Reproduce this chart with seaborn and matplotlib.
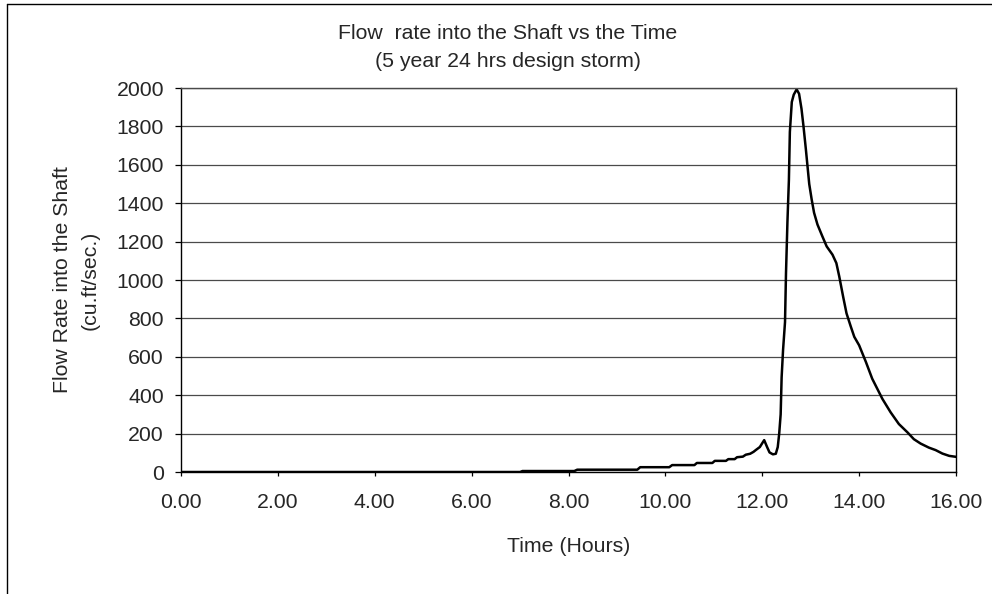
import matplotlib
matplotlib.use("Agg")
import matplotlib.pyplot as plt
from matplotlib.lines import Line2D
import seaborn as sns
import pandas as pd

# Hydrograph: flow into the shaft for the 5-year 24-hour design storm
hours = [0.00, 7.00, 7.05, 8.12, 8.18, 9.42, 9.48, 10.08, 10.14, 10.60, 10.65,
         10.97, 11.02, 11.25, 11.30, 11.43, 11.48, 11.60, 11.66, 11.75, 11.82,
         11.87, 11.95, 12.04, 12.10, 12.15, 12.22, 12.28, 12.32, 12.35, 12.38,
         12.40, 12.43, 12.47, 12.49, 12.52, 12.55, 12.57, 12.61, 12.65, 12.71,
         12.76, 12.81, 12.85, 12.90, 12.97, 13.02, 13.07, 13.14, 13.24, 13.33,
         13.45, 13.53, 13.59, 13.67, 13.74, 13.83, 13.90, 14.00, 14.14, 14.27,
         14.48, 14.65, 14.82, 15.00, 15.13, 15.27, 15.44, 15.58, 15.72, 15.86,
         16.00]
flow_cfs = [0, 0, 5, 5, 12, 12, 25, 25, 36, 36, 47,
            47, 58, 58, 67, 67, 77, 80, 90, 95, 105,
            115, 130, 166, 130, 102, 92, 95, 130, 200, 300,
            493, 637, 781, 1033, 1303, 1520, 1771, 1927, 1965, 1993,
            1970, 1892, 1804, 1682, 1500, 1420, 1350, 1289, 1228, 1175,
            1132, 1088, 1018, 913, 826, 756, 704, 660, 573, 486,
            381, 311, 250, 206, 171, 148, 127, 114, 96, 84,
            79]

x_ticks = [0, 2, 4, 6, 8, 10, 12, 14, 16]
y_ticks = [0, 200, 400, 600, 800, 1000, 1200, 1400, 1600, 1800, 2000]

title_text = "Flow  rate into the Shaft vs the Time\n(5 year 24 hrs design storm)"
x_label = "Time (Hours)"
y_label = "Flow Rate into the Shaft\n(cu.ft/sec.)"

df = pd.DataFrame({"hours": hours, "flow": flow_cfs})

sns.set_style("white")
plt.rcParams["font.family"] = ["Liberation Sans", "DejaVu Sans"]
FS = 15.3

W, H = 992, 594
fig = plt.figure(figsize=(W / 100, H / 100), dpi=100)
fig.patch.set_facecolor("white")

# plot area in pixel coordinates
L, R, T, B = 181, 956, 88, 472
ax = fig.add_axes([L / W, 1 - B / H, (R - L) / W, (B - T) / H])

sns.lineplot(data=df, x="hours", y="flow", ax=ax, color="black",
             linewidth=1.8, estimator=None, sort=False)

ax.set_xlim(0, 16)
ax.set_ylim(0, 2000)
ax.set_xticks(x_ticks)
ax.set_xticklabels([f"{v:.2f}" for v in x_ticks], fontsize=FS)
ax.set_yticks(y_ticks)
ax.set_yticklabels([str(v) for v in y_ticks], fontsize=FS)
ax.tick_params(axis="x", direction="out", length=3, width=0.9,
               color="black", pad=12, bottom=True)
ax.tick_params(axis="y", direction="out", length=4.3, width=0.9,
               color="black", pad=8, left=True)

ax.yaxis.grid(True, color="#4a4a4a", linewidth=0.9)
ax.xaxis.grid(False)
ax.set_axisbelow(True)
for side, sp in ax.spines.items():
    sp.set_visible(True)
    sp.set_color("black")
    sp.set_linewidth(1.0)
ax.spines["top"].set_color("#4a4a4a")

ax.set_xlabel(x_label, fontsize=FS, labelpad=18)
ax.set_ylabel(y_label, fontsize=FS, labelpad=12, linespacing=1.6)

# chart title centred over the chart area
fig.text(508 / W, 1 - 47.5 / H, title_text, ha="center", va="center",
         fontsize=FS, linespacing=1.6)

# chart area border (extends past the right and bottom edges)
fx = 7 / W
fy = 1 - 4 / H
fig.add_artist(Line2D([fx, fx], [0, fy], transform=fig.transFigure,
                      color="black", linewidth=1.0))
fig.add_artist(Line2D([fx, 1], [fy, fy], transform=fig.transFigure,
                      color="black", linewidth=1.0))

fig.savefig("out.png", dpi=100, facecolor="white")
